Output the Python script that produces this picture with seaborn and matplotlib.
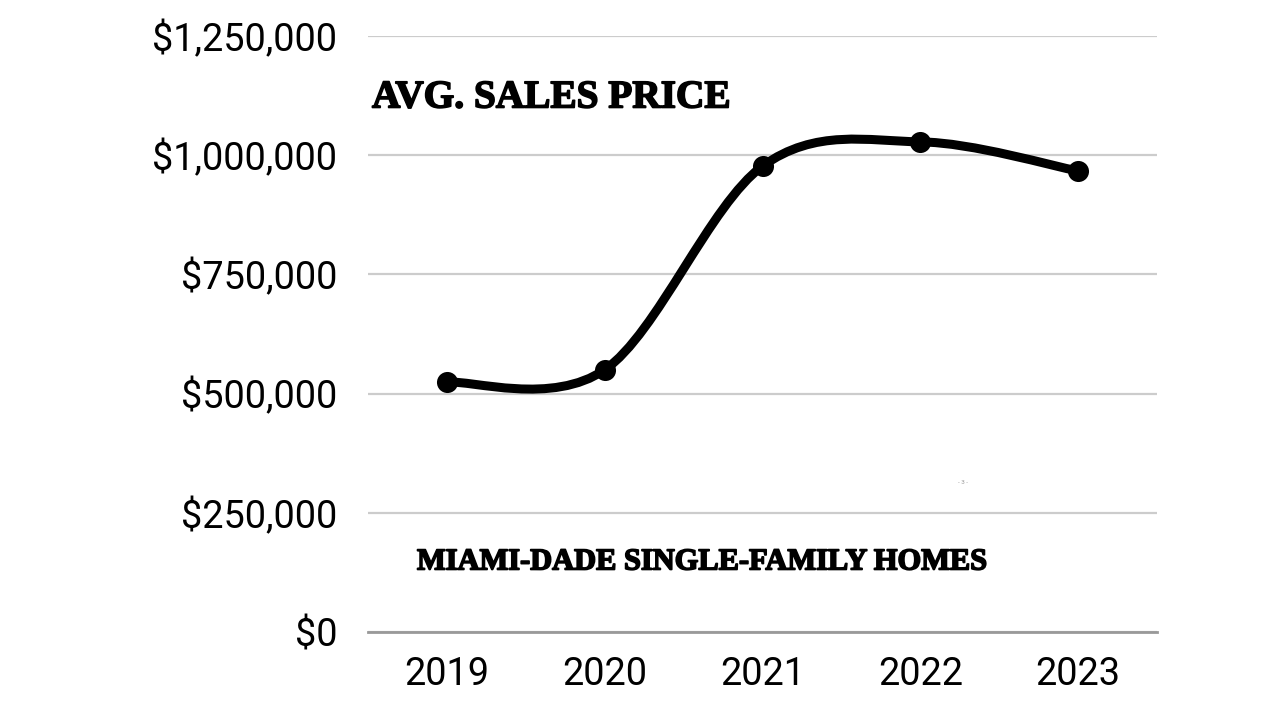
import matplotlib
matplotlib.use("Agg")
import matplotlib.pyplot as plt
from matplotlib.path import Path
from matplotlib.patches import PathPatch
import matplotlib.patheffects as pe
import seaborn as sns
import numpy as np
import pandas as pd

years = ["2019", "2020", "2021", "2022", "2023"]
prices = [524000, 550000, 977000, 1028000, 967000]
yticks = [0, 250000, 500000, 750000, 1000000, 1250000]
ytick_labels = ["$0", "$250,000", "$500,000", "$750,000", "$1,000,000", "$1,250,000"]
title = "AVG. SALES PRICE"
subtitle = "MIAMI-DADE SINGLE-FAMILY HOMES"

sns.set_theme(style="white")
plt.rcParams['font.family'] = ['Roboto', 'DejaVu Sans']

df = pd.DataFrame({"pos": np.arange(len(years)), "year": years, "price": prices})

fig = plt.figure(figsize=(12.8, 7.2), dpi=100)
ax = fig.add_axes([368/1280, 1-632/720, (1157-368)/1280, (632-36)/720])

# smooth line (Catmull-Rom spline as cubic Bezier segments, computed from data)
P = np.column_stack([df["pos"].values.astype(float), df["price"].values.astype(float)])
ext = np.vstack([P[0], P, P[-1]])
verts = [tuple(P[0])]
codes = [Path.MOVETO]
for i in range(len(P) - 1):
    p0, p1, p2, p3 = ext[i], ext[i+1], ext[i+2], ext[i+3]
    c1 = p1 + (p2 - p0) / 6.0
    c2 = p2 - (p3 - p1) / 6.0
    verts += [tuple(c1), tuple(c2), tuple(p2)]
    codes += [Path.CURVE4, Path.CURVE4, Path.CURVE4]
patch = PathPatch(Path(verts, codes), facecolor="none", edgecolor="black", lw=6.5,
                  capstyle="round", joinstyle="round", zorder=3)
ax.add_patch(patch)

sns.scatterplot(data=df, x="pos", y="price", ax=ax, color="black", s=230,
                edgecolor="black", linewidth=0, zorder=4, legend=False)

ax.set_xlim(-0.5, len(years) - 0.5)
ax.set_ylim(0, 1250000)
ax.set_xticks(df["pos"])
ax.set_xticklabels(years)
ax.set_yticks(yticks)
ax.set_yticklabels(ytick_labels)
ax.tick_params(axis="both", length=0, labelsize=27.3, colors="black")
ax.tick_params(axis="x", pad=17)
ax.tick_params(axis="y", pad=22)
ax.set_xlabel("")
ax.set_ylabel("")
ax.grid(axis="y", color="#cccccc", lw=1.6)
ax.set_axisbelow(True)
for s in ["top", "right", "left"]:
    ax.spines[s].set_visible(False)
ax.spines["bottom"].set_color("#999999")
ax.spines["bottom"].set_linewidth(2)

thick = [pe.withStroke(linewidth=1.2, foreground="black")]
fig.text(372/1280, 1-98/720, title, fontsize=28.3, fontweight="bold",
         family=["Liberation Serif", "DejaVu Serif"], va="center", ha="left", color="black",
         path_effects=thick)
fig.text(417/1280, 1-562/720, subtitle, fontsize=21.9, fontweight="bold",
         family=["Liberation Serif", "DejaVu Serif"], va="center", ha="left", color="black",
         path_effects=thick)
fig.text(963/1280, 1-483/720, "- 3 -", fontsize=4.5, color="#999999", va="center", ha="center")

fig.savefig("out.png", dpi=100, facecolor="white")
